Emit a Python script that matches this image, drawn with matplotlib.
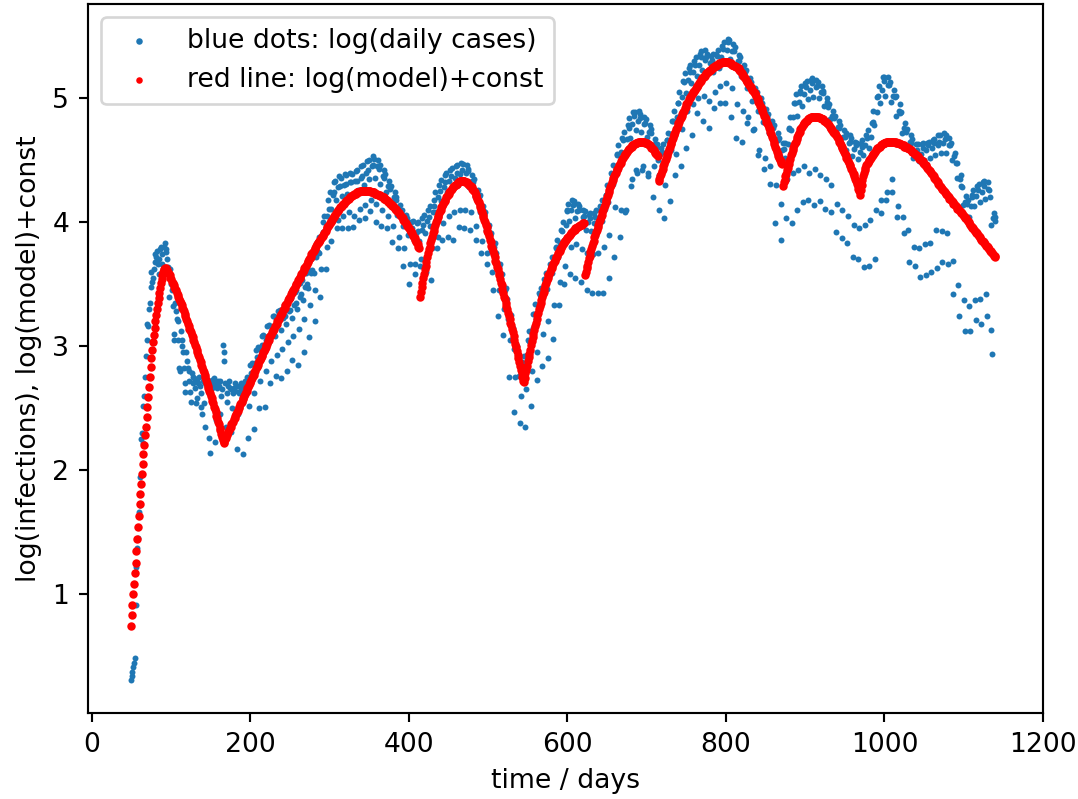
#log of daily cases with the piecewise model on top

import numpy as np
import matplotlib
matplotlib.use("Agg")
from matplotlib import pyplot as plt

first_day = 49

# one row per week, starting at day 49
log_cases = [
	[0.31, 0.34, 0.37, 0.41, 0.44, 0.48, 0.91],
	[1.22, 1.37, 1.45, 1.66, 1.72, 1.94, 2.25],
	[2.30, 2.22, 2.52, 2.60, 2.75, 2.92, 3.05],
	[3.18, 3.16, 3.30, 3.35, 3.48, 3.60, 3.52],
	[3.55, 3.62, 3.68, 3.74, 3.72, 3.77, 3.66],
	[3.58, 3.70, 3.78, 3.80, 3.74, 3.66, 3.62],
	[3.80, 3.83, 3.78, 3.76, 3.70, 3.64, 3.40],
	[3.55, 3.62, 3.50, 3.45, 3.32, 3.10, 3.05],
	[3.35, 3.28, 3.22, 3.20, 3.05, 2.82, 2.80],
	[3.12, 3.05, 3.00, 2.95, 2.82, 2.63, 2.70],
	[2.95, 2.88, 2.82, 2.80, 2.72, 2.63, 2.55],
	[2.78, 2.75, 2.70, 2.74, 2.66, 2.54, 2.58],
	[2.72, 2.70, 2.75, 2.68, 2.62, 2.51, 2.45],
	[2.72, 2.54, 2.35, 2.70, 2.73, 2.68, 2.66],
	[2.70, 2.26, 2.14, 2.72, 2.66, 2.73, 2.69],
	[2.74, 2.23, 2.40, 2.70, 2.66, 2.72, 2.68],
	[2.72, 2.45, 2.60, 2.65, 3.01, 2.95, 2.88],
	[2.70, 2.35, 2.55, 2.62, 2.68, 2.72, 2.66],
	[2.65, 2.31, 2.50, 2.62, 2.66, 2.70, 2.64],
	[2.68, 2.17, 2.45, 2.62, 2.68, 2.64, 2.70],
	[2.65, 2.13, 2.55, 2.68, 2.72, 2.70, 2.75],
	[2.64, 2.26, 2.52, 2.73, 2.85, 2.78, 2.86],
	[2.76, 2.33, 2.62, 2.86, 2.97, 2.91, 2.99],
	[2.86, 2.50, 2.72, 2.97, 3.08, 3.01, 3.09],
	[2.96, 2.51, 2.80, 3.05, 3.16, 3.08, 3.17],
	[3.03, 2.70, 2.88, 3.13, 3.24, 3.15, 3.24],
	[3.08, 2.76, 2.93, 3.18, 3.28, 3.20, 3.29],
	[3.13, 2.74, 2.98, 3.23, 3.33, 3.24, 3.34],
	[3.18, 2.80, 3.03, 3.28, 3.38, 3.29, 3.39],
	[3.23, 2.89, 3.08, 3.33, 3.44, 3.35, 3.45],
	[3.30, 2.85, 3.14, 3.40, 3.51, 3.42, 3.53],
	[3.37, 2.95, 3.22, 3.48, 3.59, 3.50, 3.61],
	[3.47, 3.07, 3.33, 3.59, 3.70, 3.61, 3.73],
	[3.59, 3.20, 3.45, 3.72, 3.84, 3.76, 3.88],
	[3.75, 3.40, 3.62, 3.88, 4.00, 3.92, 4.05],
	[3.92, 3.62, 3.80, 4.05, 4.18, 4.11, 4.24],
	[4.11, 3.85, 4.00, 4.22, 4.32, 4.24, 4.33],
	[4.18, 3.95, 4.02, 4.28, 4.37, 4.29, 4.36],
	[4.21, 3.95, 4.05, 4.30, 4.39, 4.31, 4.38],
	[4.23, 3.95, 4.08, 4.32, 4.40, 4.32, 4.39],
	[4.23, 3.96, 4.05, 4.33, 4.41, 4.33, 4.42],
	[4.26, 4.02, 4.11, 4.36, 4.45, 4.37, 4.46],
	[4.30, 4.03, 4.14, 4.40, 4.49, 4.42, 4.50],
	[4.35, 4.09, 4.18, 4.45, 4.53, 4.46, 4.51],
	[4.36, 4.00, 4.15, 4.45, 4.50, 4.43, 4.46],
	[4.31, 3.97, 4.10, 4.37, 4.42, 4.36, 4.39],
	[4.24, 3.95, 4.05, 4.29, 4.33, 4.27, 4.29],
	[4.16, 3.84, 3.97, 4.20, 4.24, 4.18, 4.20],
	[4.06, 3.79, 3.88, 4.10, 4.14, 4.08, 4.10],
	[3.97, 3.65, 3.79, 4.01, 4.06, 4.01, 4.03],
	[3.90, 3.50, 3.66, 3.95, 4.00, 3.95, 4.01],
	[3.86, 3.58, 3.66, 3.91, 3.99, 3.93, 4.00],
	[3.85, 3.65, 3.70, 3.94, 4.03, 3.98, 4.06],
	[3.91, 3.71, 3.60, 4.01, 4.10, 4.04, 4.13],
	[3.97, 3.53, 3.79, 4.08, 4.18, 4.13, 4.24],
	[4.08, 3.79, 3.88, 4.20, 4.30, 4.25, 4.34],
	[4.17, 3.86, 3.99, 4.28, 4.38, 4.32, 4.40],
	[4.24, 3.88, 4.05, 4.33, 4.42, 4.37, 4.44],
	[4.28, 3.86, 4.08, 4.36, 4.45, 4.40, 4.46],
	[4.30, 3.96, 4.10, 4.39, 4.48, 4.42, 4.47],
	[4.32, 3.95, 4.10, 4.40, 4.46, 4.41, 4.43],
	[4.28, 3.94, 4.08, 4.33, 4.38, 4.32, 4.35],
	[4.20, 3.86, 3.97, 4.23, 4.26, 4.20, 4.22],
	[4.08, 3.75, 3.85, 4.10, 4.13, 4.06, 4.08],
	[3.94, 3.66, 3.75, 3.95, 3.98, 3.90, 3.91],
	[3.78, 3.60, 3.45, 3.80, 3.83, 3.75, 3.75],
	[3.62, 3.24, 3.45, 3.64, 3.66, 3.58, 3.58],
	[3.44, 3.09, 3.30, 3.45, 3.47, 3.38, 3.38],
	[3.22, 2.75, 3.05, 3.23, 3.25, 3.15, 3.15],
	[2.98, 2.47, 2.75, 2.98, 3.00, 2.91, 2.91],
	[2.76, 2.38, 2.60, 2.81, 2.87, 2.85, 2.92],
	[2.83, 2.35, 2.65, 2.93, 3.05, 3.04, 3.12],
	[3.03, 2.52, 2.80, 3.15, 3.26, 3.26, 3.34],
	[3.22, 2.73, 2.95, 3.33, 3.43, 3.41, 3.47],
	[3.34, 2.84, 3.10, 3.44, 3.54, 3.52, 3.59],
	[3.46, 2.90, 3.20, 3.56, 3.66, 3.65, 3.72],
	[3.59, 3.06, 3.33, 3.70, 3.80, 3.79, 3.86],
	[3.72, 3.33, 3.52, 3.83, 3.94, 3.93, 4.00],
	[3.86, 3.50, 3.65, 3.98, 4.10, 4.09, 4.15],
	[4.01, 3.58, 3.80, 4.10, 4.18, 4.14, 4.17],
	[4.03, 3.55, 3.82, 4.09, 4.15, 4.10, 4.13],
	[3.98, 3.52, 3.78, 4.04, 4.10, 4.05, 4.09],
	[3.94, 3.45, 3.75, 4.00, 4.06, 4.03, 4.07],
	[3.93, 3.43, 3.74, 3.99, 4.07, 4.04, 4.10],
	[3.94, 3.43, 3.75, 4.03, 4.13, 4.11, 4.18],
	[4.01, 3.43, 3.80, 4.11, 4.22, 4.22, 4.30],
	[4.16, 3.55, 3.90, 4.28, 4.40, 4.39, 4.46],
	[4.31, 3.72, 4.12, 4.43, 4.55, 4.54, 4.62],
	[4.46, 3.88, 4.10, 4.57, 4.68, 4.66, 4.73],
	[4.56, 4.08, 4.10, 4.67, 4.78, 4.76, 4.84],
	[4.68, 4.29, 4.35, 4.79, 4.89, 4.86, 4.89],
	[4.74, 4.42, 4.40, 4.82, 4.90, 4.84, 4.87],
	[4.73, 4.42, 4.45, 4.79, 4.85, 4.80, 4.83],
	[4.69, 4.37, 4.40, 4.73, 4.78, 4.72, 4.75],
	[4.60, 4.20, 4.45, 4.63, 4.67, 4.61, 4.63],
	[4.50, 4.10, 4.38, 4.55, 4.60, 4.57, 4.63],
	[4.48, 4.03, 4.30, 4.53, 4.66, 4.66, 4.72],
	[4.58, 4.17, 4.58, 4.71, 4.82, 4.82, 4.90],
	[4.71, 4.38, 4.55, 4.85, 4.96, 4.96, 5.05],
	[4.86, 4.45, 4.75, 5.01, 5.14, 5.13, 5.20],
	[5.04, 4.60, 4.90, 5.15, 5.24, 5.21, 5.27],
	[5.12, 4.70, 4.95, 5.21, 5.30, 5.27, 5.33],
	[5.18, 4.88, 5.00, 5.27, 5.36, 5.33, 5.38],
	[5.23, 4.82, 5.02, 5.31, 5.39, 5.33, 5.36],
	[5.22, 4.76, 4.98, 5.28, 5.34, 5.31, 5.36],
	[5.21, 4.92, 5.05, 5.27, 5.36, 5.34, 5.39],
	[5.24, 4.96, 5.10, 5.33, 5.42, 5.40, 5.45],
	[5.30, 4.96, 5.12, 5.39, 5.48, 5.45, 5.47],
	[5.32, 4.85, 5.08, 5.38, 5.44, 5.38, 5.41],
	[5.26, 4.68, 4.95, 5.30, 5.35, 5.30, 5.33],
	[5.18, 4.65, 4.90, 5.23, 5.27, 5.21, 5.23],
	[5.08, 4.80, 4.85, 5.12, 5.16, 5.10, 5.13],
	[4.98, 4.74, 4.75, 5.03, 5.08, 5.02, 5.05],
	[4.90, 4.54, 4.58, 4.95, 5.00, 4.94, 4.96],
	[4.81, 4.43, 4.52, 4.86, 4.91, 4.85, 4.87],
	[4.72, 4.31, 4.45, 4.77, 4.82, 4.76, 4.78],
	[4.62, 3.99, 4.30, 4.67, 4.72, 4.66, 4.68],
	[4.53, 3.86, 4.15, 4.58, 4.64, 4.59, 4.64],
	[4.52, 4.03, 4.35, 4.63, 4.75, 4.76, 4.85],
	[4.74, 3.99, 4.40, 4.85, 4.96, 4.96, 5.03],
	[4.86, 4.10, 4.42, 4.97, 5.06, 5.04, 5.10],
	[4.94, 4.16, 4.45, 5.03, 5.12, 5.09, 5.14],
	[4.99, 4.18, 4.40, 5.07, 5.15, 5.12, 5.16],
	[5.01, 4.14, 4.43, 5.09, 5.15, 5.10, 5.13],
	[5.00, 4.17, 4.38, 5.05, 5.10, 5.04, 5.06],
	[4.94, 4.11, 4.35, 4.97, 5.00, 4.93, 4.95],
	[4.83, 4.08, 4.30, 4.86, 4.90, 4.84, 4.86],
	[4.72, 3.92, 4.15, 4.77, 4.82, 4.76, 4.78],
	[4.64, 3.87, 4.10, 4.69, 4.74, 4.69, 4.72],
	[4.58, 3.83, 4.05, 4.64, 4.70, 4.65, 4.68],
	[4.53, 3.72, 3.98, 4.59, 4.65, 4.62, 4.64],
	[4.51, 3.70, 3.95, 4.57, 4.63, 4.61, 4.66],
	[4.54, 3.64, 3.98, 4.62, 4.70, 4.68, 4.74],
	[4.60, 3.65, 4.02, 4.69, 4.80, 4.81, 4.90],
	[4.78, 3.70, 4.10, 4.89, 5.01, 5.02, 5.10],
	[4.96, 4.07, 4.18, 5.07, 5.17, 5.14, 5.17],
	[5.02, 4.18, 4.24, 5.11, 5.17, 5.11, 5.13],
	[4.97, 4.35, 4.24, 5.02, 5.07, 5.01, 5.02],
	[4.86, 4.04, 4.13, 4.90, 4.95, 4.88, 4.89],
	[4.72, 4.04, 3.91, 4.76, 4.80, 4.73, 4.75],
	[4.60, 3.94, 3.68, 4.65, 4.70, 4.64, 4.67],
	[4.52, 3.80, 3.65, 4.57, 4.63, 4.58, 4.63],
	[4.49, 3.79, 3.56, 4.55, 4.63, 4.60, 4.64],
	[4.50, 3.82, 3.57, 4.58, 4.64, 4.62, 4.65],
	[4.52, 3.83, 3.60, 4.60, 4.66, 4.64, 4.67],
	[4.54, 3.94, 3.63, 4.62, 4.70, 4.65, 4.70],
	[4.56, 3.93, 3.68, 4.64, 4.72, 4.67, 4.70],
	[4.56, 3.91, 3.66, 4.62, 4.68, 4.62, 4.64],
	[4.50, 3.69, 3.42, 4.53, 4.56, 4.48, 4.48],
	[4.36, 3.49, 3.24, 4.35, 4.38, 4.29, 4.28],
	[4.14, 3.37, 3.12, 4.16, 4.21, 4.15, 4.18],
	[4.04, 3.32, 3.12, 4.13, 4.22, 4.20, 4.26],
	[4.13, 3.37, 3.21, 4.21, 4.29, 4.26, 4.31],
	[4.16, 3.38, 3.18, 4.24, 4.32, 4.29, 4.33],
	[4.19, 3.42, 3.24, 4.27, 4.32, 4.26, 4.20],
	[3.98, 3.13, 2.94, 4.03, 4.07, 4.01, 4.04],
]

# model, one value per day, each piece starts at the day in model_start
model_start = [49, 414, 622, 715, 872, 970]

model_1 = [
	0.74, 0.83, 0.91, 1.00, 1.08, 1.17, 1.25, 1.35, 1.44, 1.54,
	1.63, 1.73, 1.81, 1.89, 1.97, 2.05, 2.13, 2.20, 2.28, 2.35,
	2.43, 2.51, 2.59, 2.67, 2.75, 2.83, 2.90, 2.97, 3.03, 3.09,
	3.15, 3.20, 3.25, 3.30, 3.35, 3.39, 3.43, 3.47, 3.51, 3.54,
	3.57, 3.60, 3.62, 3.63, 3.63,
	3.62, 3.61, 3.60, 3.58, 3.57, 3.55, 3.54, 3.52, 3.51, 3.49,
	3.48, 3.46, 3.45, 3.43, 3.41, 3.40, 3.38, 3.36, 3.35, 3.33,
	3.31, 3.30, 3.28, 3.26, 3.24, 3.22, 3.20, 3.18, 3.16, 3.14,
	3.13, 3.11, 3.09, 3.07, 3.05, 3.03, 3.01, 2.99, 2.97, 2.95,
	2.93, 2.91, 2.89, 2.87, 2.85, 2.83, 2.81, 2.79, 2.77, 2.75,
	2.73, 2.70, 2.68, 2.66, 2.64, 2.62, 2.60, 2.58, 2.56, 2.54,
	2.51, 2.49, 2.47, 2.44, 2.42, 2.39, 2.37, 2.34, 2.32, 2.29,
	2.27, 2.24, 2.22,
	2.23, 2.25, 2.26, 2.28, 2.29, 2.31, 2.32, 2.34, 2.35, 2.37,
	2.38, 2.39, 2.41, 2.42, 2.44, 2.45, 2.47, 2.48, 2.50, 2.51,
	2.53, 2.54, 2.55, 2.57, 2.58, 2.60, 2.61, 2.63, 2.64, 2.66,
	2.67, 2.69, 2.70, 2.71, 2.73, 2.74, 2.76, 2.77, 2.79, 2.80,
	2.82, 2.83, 2.85, 2.86, 2.88, 2.89, 2.90, 2.92, 2.93, 2.95,
	2.96, 2.98, 2.99, 3.01, 3.02, 3.04, 3.05, 3.07, 3.08, 3.09,
	3.11, 3.12, 3.13, 3.14, 3.16, 3.17, 3.18, 3.20, 3.21, 3.22,
	3.24, 3.25, 3.26, 3.27, 3.29, 3.30, 3.31, 3.33, 3.34, 3.35,
	3.37, 3.38, 3.39, 3.40, 3.42, 3.43, 3.44, 3.45, 3.46, 3.48,
	3.49, 3.50, 3.51, 3.53, 3.54, 3.55, 3.56, 3.58, 3.59, 3.60,
	3.61, 3.63, 3.64, 3.65, 3.66, 3.68, 3.69, 3.70, 3.71, 3.72,
	3.74, 3.75, 3.76, 3.77, 3.78, 3.79, 3.81, 3.82, 3.83, 3.84,
	3.85, 3.86, 3.87, 3.88, 3.89, 3.90, 3.91, 3.92, 3.93, 3.95,
	3.96, 3.97, 3.98, 3.99, 4.00, 4.01, 4.02, 4.03, 4.04, 4.05,
	4.06, 4.07, 4.08, 4.09, 4.10, 4.11, 4.12, 4.12, 4.13, 4.14,
	4.15, 4.15, 4.16, 4.17, 4.17, 4.18, 4.19, 4.19, 4.20, 4.20,
	4.21, 4.21, 4.22, 4.22, 4.23, 4.23, 4.23, 4.24, 4.24, 4.24,
	4.24, 4.25, 4.25, 4.25, 4.25, 4.25, 4.25, 4.25, 4.25, 4.25,
	4.25, 4.25, 4.25, 4.25, 4.25, 4.24, 4.24, 4.24, 4.24, 4.24,
	4.23, 4.23, 4.23, 4.23, 4.22, 4.22, 4.22, 4.21, 4.21, 4.20,
	4.20, 4.20, 4.19, 4.19, 4.18, 4.18, 4.17, 4.16, 4.16, 4.15,
	4.15, 4.14, 4.13, 4.13, 4.12, 4.11, 4.11, 4.10, 4.09, 4.08,
	4.07, 4.07, 4.06, 4.05, 4.04, 4.03, 4.02, 4.01, 4.00, 3.99,
	3.98, 3.97, 3.96, 3.95, 3.94, 3.93, 3.92, 3.91, 3.89, 3.88,
	3.87, 3.86, 3.84, 3.83, 3.82, 3.80, 3.79,
]

model_2 = [
	3.40, 3.44, 3.48, 3.51, 3.55, 3.58, 3.62, 3.65, 3.68, 3.72,
	3.75, 3.78, 3.80, 3.83, 3.86, 3.88, 3.91, 3.93, 3.95, 3.98,
	4.00, 4.02, 4.04, 4.05, 4.07, 4.09, 4.10, 4.12, 4.13, 4.15,
	4.16, 4.17, 4.18, 4.20, 4.21, 4.22, 4.23, 4.24, 4.25, 4.26,
	4.27, 4.28, 4.28, 4.29, 4.30, 4.30, 4.31, 4.31, 4.32, 4.32,
	4.33, 4.33, 4.33, 4.33, 4.33, 4.33, 4.33, 4.32, 4.32, 4.32,
	4.31, 4.31, 4.30, 4.29, 4.29, 4.28, 4.27, 4.26, 4.25, 4.24,
	4.22, 4.21, 4.19, 4.17, 4.16, 4.14, 4.12, 4.10, 4.08, 4.06,
	4.04, 4.02, 4.00, 3.98, 3.96, 3.93, 3.91, 3.89, 3.86, 3.84,
	3.81, 3.79, 3.77, 3.74, 3.72, 3.69, 3.67, 3.64, 3.62, 3.59,
	3.57, 3.54, 3.51, 3.49, 3.46, 3.43, 3.40, 3.38, 3.35, 3.32,
	3.30, 3.27, 3.24, 3.22, 3.19, 3.17, 3.14, 3.11, 3.08, 3.05,
	3.02, 2.99, 2.96, 2.93, 2.90, 2.87, 2.84, 2.81, 2.78, 2.75,
	2.72, 2.71, 2.74, 2.78, 2.81, 2.84, 2.88, 2.91, 2.94, 2.97,
	3.01, 3.04, 3.07, 3.10, 3.13, 3.16, 3.19, 3.22, 3.25, 3.27,
	3.30, 3.32, 3.35, 3.37, 3.40, 3.42, 3.44, 3.46, 3.49, 3.51,
	3.53, 3.55, 3.57, 3.58, 3.60, 3.62, 3.63, 3.65, 3.66, 3.68,
	3.69, 3.71, 3.72, 3.73, 3.75, 3.76, 3.77, 3.78, 3.79, 3.81,
	3.82, 3.83, 3.84, 3.85, 3.86, 3.87, 3.87, 3.88, 3.89, 3.90,
	3.91, 3.91, 3.92, 3.93, 3.94, 3.94, 3.95, 3.95, 3.96, 3.96,
	3.97, 3.97, 3.98, 3.98, 3.98, 3.99, 3.99, 3.99,
]

model_3 = [
	3.57, 3.60, 3.63, 3.65, 3.68, 3.71, 3.73, 3.76, 3.78, 3.81,
	3.83, 3.85, 3.88, 3.90, 3.92, 3.94, 3.96, 3.98, 4.00, 4.02,
	4.04, 4.06, 4.08, 4.10, 4.12, 4.14, 4.16, 4.18, 4.20, 4.22,
	4.24, 4.26, 4.28, 4.30, 4.32, 4.34, 4.36, 4.37, 4.39, 4.40,
	4.42, 4.43, 4.44, 4.46, 4.47, 4.48, 4.49, 4.51, 4.52, 4.53,
	4.54, 4.55, 4.56, 4.57, 4.58, 4.59, 4.59, 4.60, 4.61, 4.61,
	4.62, 4.62, 4.63, 4.63, 4.64, 4.64, 4.64, 4.65, 4.65, 4.65,
	4.65, 4.65, 4.65, 4.65, 4.65, 4.65, 4.64, 4.64, 4.64, 4.63,
	4.63, 4.62, 4.62, 4.61, 4.60, 4.60, 4.59, 4.58, 4.57, 4.56,
	4.55, 4.54, 4.53,
]

model_4 = [
	4.33, 4.35, 4.37, 4.39, 4.41, 4.43, 4.45, 4.47, 4.49, 4.51,
	4.53, 4.55, 4.57, 4.59, 4.61, 4.63, 4.64, 4.66, 4.68, 4.70,
	4.71, 4.73, 4.75, 4.76, 4.78, 4.80, 4.81, 4.83, 4.84, 4.86,
	4.87, 4.89, 4.90, 4.92, 4.93, 4.95, 4.96, 4.97, 4.99, 5.00,
	5.01, 5.02, 5.03, 5.04, 5.05, 5.06, 5.07, 5.08, 5.09, 5.10,
	5.11, 5.12, 5.13, 5.14, 5.15, 5.16, 5.17, 5.17, 5.18, 5.19,
	5.20, 5.20, 5.21, 5.22, 5.22, 5.23, 5.23, 5.24, 5.24, 5.25,
	5.25, 5.26, 5.26, 5.27, 5.27, 5.27, 5.28, 5.28, 5.28, 5.28,
	5.29, 5.29, 5.29, 5.29, 5.29, 5.29, 5.29, 5.29, 5.29, 5.28,
	5.28, 5.28, 5.27, 5.27, 5.27, 5.26, 5.26, 5.26, 5.25, 5.25,
	5.24, 5.24, 5.23, 5.22, 5.21, 5.20, 5.19, 5.18, 5.17, 5.16,
	5.15, 5.14, 5.13, 5.12, 5.11, 5.10, 5.09, 5.08, 5.07, 5.06,
	5.05, 5.04, 5.03, 5.02, 5.00, 4.99, 4.97, 4.96, 4.94, 4.93,
	4.91, 4.90, 4.88, 4.86, 4.85, 4.83, 4.81, 4.80, 4.78, 4.76,
	4.75, 4.73, 4.71, 4.69, 4.67, 4.65, 4.63, 4.61, 4.59, 4.57,
	4.55, 4.53, 4.52, 4.50, 4.49, 4.48, 4.47,
]

model_5 = [
	4.29, 4.32, 4.34, 4.37, 4.39, 4.42, 4.44, 4.47, 4.49, 4.51,
	4.54, 4.56, 4.58, 4.60, 4.62, 4.64, 4.65, 4.67, 4.69, 4.70,
	4.72, 4.73, 4.75, 4.76, 4.77, 4.78, 4.79, 4.80, 4.81, 4.82,
	4.82, 4.83, 4.83, 4.84, 4.84, 4.85, 4.85, 4.85, 4.85, 4.85,
	4.85, 4.85, 4.85, 4.85, 4.85, 4.85, 4.84, 4.84, 4.84, 4.83,
	4.83, 4.83, 4.82, 4.82, 4.81, 4.80, 4.80, 4.79, 4.78, 4.77,
	4.76, 4.75, 4.74, 4.73, 4.72, 4.72, 4.71, 4.70, 4.69, 4.68,
	4.66, 4.65, 4.64, 4.62, 4.61, 4.60, 4.58, 4.57, 4.55, 4.54,
	4.52, 4.51, 4.49, 4.48, 4.46, 4.45, 4.43, 4.42, 4.40, 4.39,
	4.37, 4.35, 4.33, 4.31, 4.29, 4.27, 4.25, 4.22,
]

model_6 = [
	4.26, 4.30, 4.34, 4.37, 4.40, 4.42, 4.44, 4.46, 4.47, 4.48,
	4.49, 4.50, 4.51, 4.52, 4.53, 4.54, 4.55, 4.56, 4.57, 4.58,
	4.59, 4.60, 4.60, 4.61, 4.61, 4.62, 4.62, 4.63, 4.63, 4.64,
	4.64, 4.64, 4.65, 4.65, 4.65, 4.65, 4.65, 4.65, 4.65, 4.65,
	4.65, 4.65, 4.65, 4.65, 4.65, 4.64, 4.64, 4.64, 4.64, 4.63,
	4.63, 4.63, 4.62, 4.62, 4.62, 4.61, 4.61, 4.61, 4.61, 4.60,
	4.60, 4.59, 4.59, 4.58, 4.58, 4.57, 4.57, 4.56, 4.55, 4.55,
	4.54, 4.53, 4.53, 4.52, 4.51, 4.51, 4.50, 4.49, 4.49, 4.48,
	4.47, 4.46, 4.46, 4.45, 4.44, 4.43, 4.42, 4.41, 4.41, 4.40,
	4.39, 4.38, 4.37, 4.36, 4.35, 4.34, 4.33, 4.32, 4.31, 4.30,
	4.29, 4.28, 4.27, 4.27, 4.26, 4.25, 4.24, 4.23, 4.23, 4.22,
	4.21, 4.20, 4.19, 4.19, 4.18, 4.17, 4.16, 4.15, 4.15, 4.14,
	4.13, 4.12, 4.11, 4.11, 4.10, 4.09, 4.08, 4.07, 4.07, 4.06,
	4.05, 4.04, 4.03, 4.03, 4.02, 4.01, 4.00, 3.99, 3.98, 3.97,
	3.96, 3.95, 3.95, 3.94, 3.93, 3.92, 3.91, 3.91, 3.90, 3.89,
	3.88, 3.87, 3.86, 3.85, 3.85, 3.84, 3.83, 3.82, 3.81, 3.81,
	3.80, 3.79, 3.78, 3.77, 3.77, 3.76, 3.75, 3.74, 3.73, 3.73, 3.72,
]

models = [model_1, model_2, model_3, model_4, model_5, model_6]

cases = np.array(log_cases).ravel()
t_cases = np.arange(first_day, first_day + len(cases))
t_model = np.concatenate([np.arange(s, s + len(m)) for s, m in zip(model_start, models)])
y_model = np.concatenate(models)

fig = plt.figure(figsize=(1078 / 192, 799 / 192), dpi=192)
ax = fig.add_axes([88 / 1078, 86 / 799, 955 / 1078, 709 / 799])

ax.scatter(t_cases, cases, s=5, color='C0', linewidths=0, label='blue dots: log(daily cases)')
ax.scatter(t_model, y_model, s=10, color='red', linewidths=0, label='red line: log(model)+const')

ax.set_xlim(-5, 1200)
ax.set_ylim(0.04, 5.76)
ax.set_xlabel('time / days')
ax.set_ylabel('log(infections), log(model)+const')
leg = ax.legend(loc='upper left')
for h in leg.legend_handles:
	h.set_sizes([6])

fig.savefig('out.png', dpi=192)
